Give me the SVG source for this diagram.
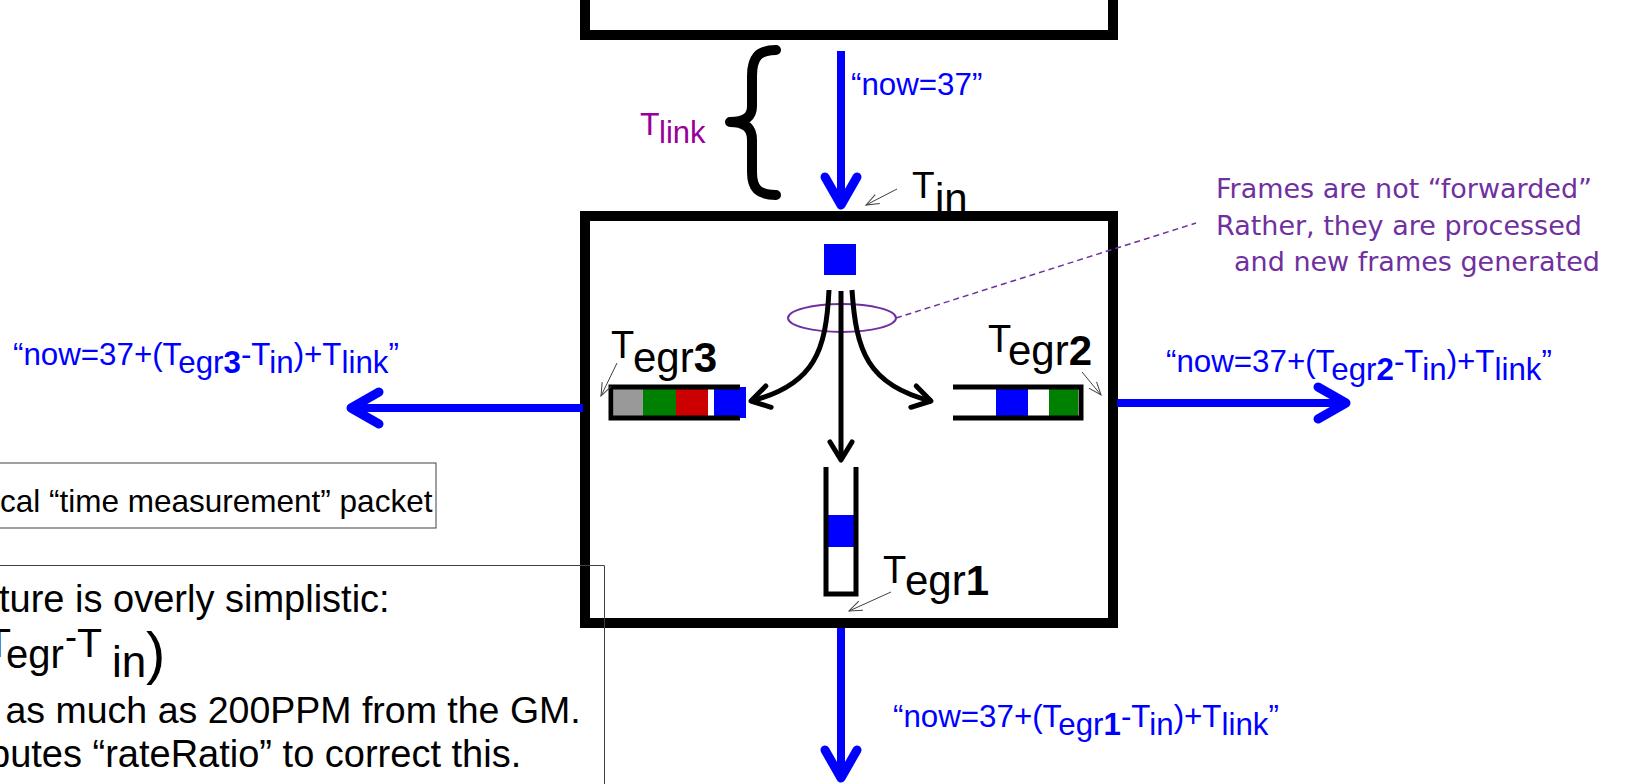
<svg xmlns="http://www.w3.org/2000/svg" width="1625" height="784" viewBox="0 0 1625 784">
  <style>
    .frame{fill:none;stroke:#000;stroke-width:10;stroke-linecap:square}
    .q{fill:none;stroke:#000;stroke-width:5}
    .blueArrow{fill:none;stroke:#0000FF;stroke-width:8}
    .blackArrow{fill:none;stroke:#000;stroke-width:5}
    .thin{fill:none;stroke:#404040;stroke-width:1}
    .blue{font-family:"Liberation Sans",Arial,sans-serif;font-size:31.3px;fill:#0000FF}
    .lbl{font-family:"Liberation Sans",Arial,sans-serif;fill:#000}
    .note{font-family:"DejaVu Sans",Tahoma,sans-serif;font-size:27px;fill:#7030A0}
    .b{font-weight:bold}
  </style>
  <defs>
    <marker id="blueHead" markerUnits="userSpaceOnUse" markerWidth="80" markerHeight="80" refX="0" refY="0" orient="auto" overflow="visible">
      <path d="M -28 -16 L 0 0 L -28 16" fill="none" stroke="#0000FF" stroke-width="9" stroke-linecap="round" stroke-linejoin="round"/>
    </marker>
    <marker id="blackHead" markerUnits="userSpaceOnUse" markerWidth="60" markerHeight="60" refX="0" refY="0" orient="auto" overflow="visible">
      <path d="M -18 -11 L 0 0 L -18 11" fill="none" stroke="#000" stroke-width="5" stroke-linecap="round" stroke-linejoin="round"/>
    </marker>
    <marker id="thinHead" markerUnits="userSpaceOnUse" markerWidth="30" markerHeight="30" refX="0" refY="0" orient="auto" overflow="visible">
      <path d="M -13 -5 L 0 0 L -13 5" fill="none" stroke="#404040" stroke-width="1"/>
    </marker>
  </defs>
  <rect x="0" y="0" width="1625" height="784" fill="#fff"/>

  <!-- upstream device (top bracket) -->
  <g id="upstream">
    <path class="frame" d="M 585 0 L 585 35 L 1113 35 L 1113 0"/>
  </g>

  <!-- T_link brace -->
  <g id="tlink">
    <path d="M 776 50 C 758 50 752 58 752 76 L 752 106 C 752 117 745 122 730 122 C 745 122 752 128 752 140 L 752 172 C 752 188 758 195 776 195" fill="none" stroke="#000" stroke-width="10" stroke-linecap="round" stroke-linejoin="round"/>
    <text class="lbl" style="fill:#990099"><tspan x="640" y="135" font-size="32">T</tspan><tspan x="659" y="143" font-size="31">link</tspan></text>
  </g>

  <!-- timestamp label at ingress (drawn under the box edge) -->
  <g id="label-tin">
    <text class="lbl"><tspan x="912" y="198" font-size="37">T</tspan><tspan x="935" y="213" font-size="42">in</tspan></text>
  </g>

  <!-- main switch box -->
  <g id="switch">
    <rect class="frame" x="585" y="216" width="528" height="407"/>
  </g>

  <!-- incoming frame -->
  <g id="frame-in">
    <rect x="824" y="244" width="32" height="31" fill="#0000FF"/>
  </g>

  <!-- egress queue 3 -->
  <g id="queue3">
    <rect x="614" y="389" width="29" height="27" fill="#999999"/>
    <rect x="643" y="389" width="33" height="27" fill="#008000"/>
    <rect x="676" y="389" width="32" height="27" fill="#CC0000"/>
    <rect x="714" y="387" width="32" height="31" fill="#0000FF"/>
    <path class="q" d="M 740 387 L 611 387 L 611 418 L 740 418"/>
  </g>

  <!-- egress queue 2 -->
  <g id="queue2">
    <rect x="996" y="389" width="32" height="27" fill="#0000FF"/>
    <rect x="1049" y="389" width="29" height="27" fill="#008000"/>
    <path class="q" d="M 953 387 L 1081 387 L 1081 418 L 953 418"/>
  </g>

  <!-- egress queue 1 -->
  <g id="queue1">
    <rect x="828" y="515" width="26" height="32" fill="#0000FF"/>
    <path class="q" d="M 826 467 L 826 594 L 856 594 L 856 467"/>
  </g>

  <!-- annotation (purple) -->
  <g id="annotation">
    <ellipse cx="842" cy="318" rx="54" ry="14" fill="none" stroke="#7030A0" stroke-width="2"/>
    <text class="note"><tspan x="1216" y="198">Frames are not “forwarded”</tspan><tspan x="1216" y="235">Rather, they are processed</tspan><tspan x="1234" y="271">and new frames generated</tspan></text>
  </g>

  <!-- timestamp labels -->
  <g id="label-tegr3">
    <text class="lbl"><tspan x="611" y="358" font-size="38">T</tspan><tspan x="633" y="372" font-size="42">egr</tspan><tspan class="b" font-size="42">3</tspan></text>
  </g>
  <g id="label-tegr2">
    <text class="lbl"><tspan x="988" y="352" font-size="38">T</tspan><tspan x="1008" y="365" font-size="42">egr</tspan><tspan class="b" font-size="42">2</tspan></text>
  </g>
  <g id="label-tegr1">
    <text class="lbl"><tspan x="883" y="583" font-size="38">T</tspan><tspan x="905" y="595" font-size="42">egr</tspan><tspan class="b" font-size="42">1</tspan></text>
  </g>

  <!-- "now" labels -->
  <g id="now-in">
    <text class="blue" x="851" y="95">“now=37”</text>
  </g>
  <g id="now-3">
    <text class="blue" x="13" y="365">“now=37+(T<tspan dy="8">egr</tspan><tspan class="b">3</tspan><tspan dy="-8">-T</tspan><tspan dy="8">in</tspan><tspan dy="-8">)+T</tspan><tspan dy="8">link</tspan><tspan dy="-8">”</tspan></text>
  </g>
  <g id="now-2">
    <text class="blue" x="1166" y="372">“now=37+(T<tspan dy="8">egr</tspan><tspan class="b">2</tspan><tspan dy="-8">-T</tspan><tspan dy="8">in</tspan><tspan dy="-8">)+T</tspan><tspan dy="8">link</tspan><tspan dy="-8">”</tspan></text>
  </g>
  <g id="now-1">
    <text class="blue" x="893" y="727">“now=37+(T<tspan dy="8">egr</tspan><tspan class="b">1</tspan><tspan dy="-8">-T</tspan><tspan dy="8">in</tspan><tspan dy="-8">)+T</tspan><tspan dy="8">link</tspan><tspan dy="-8">”</tspan></text>
  </g>

  <!-- left text boxes -->
  <g id="packet-box">
    <rect x="-2" y="463" width="438" height="65" fill="#fff" stroke="#404040" stroke-width="1"/>
    <text class="lbl" font-size="31.5" x="0" y="512">cal “time measurement” packet</text>
  </g>
  <g id="note-box">
    <path d="M 0 565.5 L 604.5 565.5 L 604.5 784" fill="none" stroke="#404040" stroke-width="1"/>
    <text class="lbl" font-size="38" x="-1" y="612">ture is overly simplistic:</text>
    <text class="lbl"><tspan x="-14" y="657" font-size="41">T</tspan><tspan x="6" y="668" font-size="40">egr</tspan><tspan x="65" y="649" font-size="36">-</tspan><tspan x="77" y="657" font-size="41">T</tspan><tspan x="112" y="677" font-size="44">in</tspan><tspan x="146" y="673" font-size="58">)</tspan></text>
    <text class="lbl" font-size="37.5" x="5.5" y="723">as much as 200PPM from the GM.</text>
    <text class="lbl" font-size="38" x="-11" y="767">putes “rateRatio” to correct this.</text>
  </g>

  <!-- connectors -->
  <g id="connectors">
    <path class="blueArrow" d="M 841 51 L 841 205" marker-end="url(#blueHead)"/>
    <path class="blueArrow" d="M 583 408 L 351 408" marker-end="url(#blueHead)"/>
    <path class="blueArrow" d="M 1117 403 L 1346 403" marker-end="url(#blueHead)"/>
    <path class="blueArrow" d="M 841 628 L 841 778" marker-end="url(#blueHead)"/>
    <path class="blackArrow" d="M 841 291 L 841 460" marker-end="url(#blackHead)"/>
    <path class="blackArrow" d="M 829 290 C 826 350 815 385 751 401" marker-end="url(#blackHead)"/>
    <path class="blackArrow" d="M 852 290 C 856 350 867 385 931 401" marker-end="url(#blackHead)"/>
    <path d="M 896 318 L 1196 223" fill="none" stroke="#7030A0" stroke-width="1.5" stroke-dasharray="6 4"/>
    <path class="thin" d="M 897 189 L 866 205" marker-end="url(#thinHead)"/>
    <path class="thin" d="M 617 363 L 601 396" marker-end="url(#thinHead)"/>
    <path class="thin" d="M 1082 372 L 1101 395" marker-end="url(#thinHead)"/>
    <path class="thin" d="M 891 592 L 849 611" marker-end="url(#thinHead)"/>
  </g>
</svg>
